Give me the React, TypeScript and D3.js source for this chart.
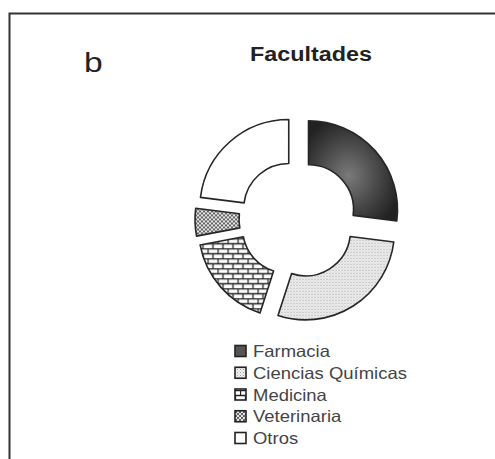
import React from "react";
import * as d3 from "d3";

const categories = ["Farmacia", "Ciencias Químicas", "Medicina", "Veterinaria", "Otros"];
const values = [27, 28, 17, 5, 23];
const fills = ["url(#gradF)", "url(#patCQ)", "url(#patBrick)", "url(#patVet)", "#ffffff"];
const legendFills = ["#555555", "url(#patCQ)", "url(#patBrick)", "url(#patVet)", "#ffffff"];

const W = 495;
const H = 459;
const cx = 298;
const cy = 219;
const outerR = 89;
const innerR = 45;
const explode = 14;

export default function App() {
  const pie = d3
    .pie<number>()
    .sort(null)
    .value((d) => d)
    .startAngle(0)
    .endAngle(2 * Math.PI);
  const arcs = pie(values);
  const arc = d3.arc<d3.PieArcDatum<number>>().innerRadius(innerR).outerRadius(outerR);

  const legendY = d3.scalePoint<string>().domain(categories).range([351, 438]);

  return (
    <svg
      width={W}
      height={H}
      style={{ position: "absolute", left: 0, top: 0, background: "#fff" }}
      fontFamily="Liberation Sans, Arial, sans-serif"
    >
      <defs>
        <radialGradient id="gradF" cx="0.45" cy="0.55" r="0.6">
          <stop offset="0" stopColor="#7a7a7a" />
          <stop offset="0.6" stopColor="#444444" />
          <stop offset="1" stopColor="#222222" />
        </radialGradient>
        <pattern id="patCQ" width={3} height={3} patternUnits="userSpaceOnUse">
          <rect width={3} height={3} fill="#f2f2f2" />
          <rect x={0} y={0} width={1} height={1} fill="#9a9a9a" />
          <rect x={1.5} y={1.5} width={1} height={1} fill="#b5b5b5" />
        </pattern>
        <pattern id="patBrick" width={10} height={10} patternUnits="userSpaceOnUse">
          <rect width={10} height={10} fill="#ffffff" />
          <path d="M0,0.5H10M0,5.5H10M0.5,0.5V5.5M5.5,5.5V10.5" stroke="#222" strokeWidth={1.3} fill="none" />
        </pattern>
        <pattern id="patVet" width={4} height={4} patternUnits="userSpaceOnUse">
          <rect width={4} height={4} fill="#e6e6e6" />
          <path d="M0,0L4,4M4,0L0,4" stroke="#555" strokeWidth={0.9} />
        </pattern>
      </defs>

      <path d={`M9.5,${H}V13.5H${W}`} fill="none" stroke="#333" strokeWidth={2} />

      <text x={84} y={72} fontSize={28} fill="#222" transform="translate(84,72) scale(1.2,1) translate(-84,-72)">
        b
      </text>
      <text
        x={311}
        y={61}
        fontSize={19.5}
        fontWeight="bold"
        fill="#222"
        textAnchor="middle"
        textLength={122}
        lengthAdjust="spacingAndGlyphs"
      >
        Facultades
      </text>

      <g>
        {arcs.map((a, i) => {
          const mid = (a.startAngle + a.endAngle) / 2;
          const dx = explode * Math.sin(mid);
          const dy = -explode * Math.cos(mid);
          return (
            <path
              key={categories[i]}
              d={arc(a) || ""}
              transform={`translate(${cx + dx},${cy + dy})`}
              fill={fills[i]}
              stroke="#262626"
              strokeWidth={1.6}
              strokeLinejoin="round"
            />
          );
        })}
      </g>

      <g>
        {categories.map((c, i) => {
          const y = legendY(c) as number;
          return (
            <g key={c}>
              <rect x={235} y={y - 5.5} width={11} height={11} fill={legendFills[i]} stroke="#222" strokeWidth={1.6} />
              <text
                fontSize={16.5}
                fill="#444"
                transform={`translate(253,${y + 6}) scale(1.12,1)`}
              >
                {c}
              </text>
            </g>
          );
        })}
      </g>
    </svg>
  );
}
